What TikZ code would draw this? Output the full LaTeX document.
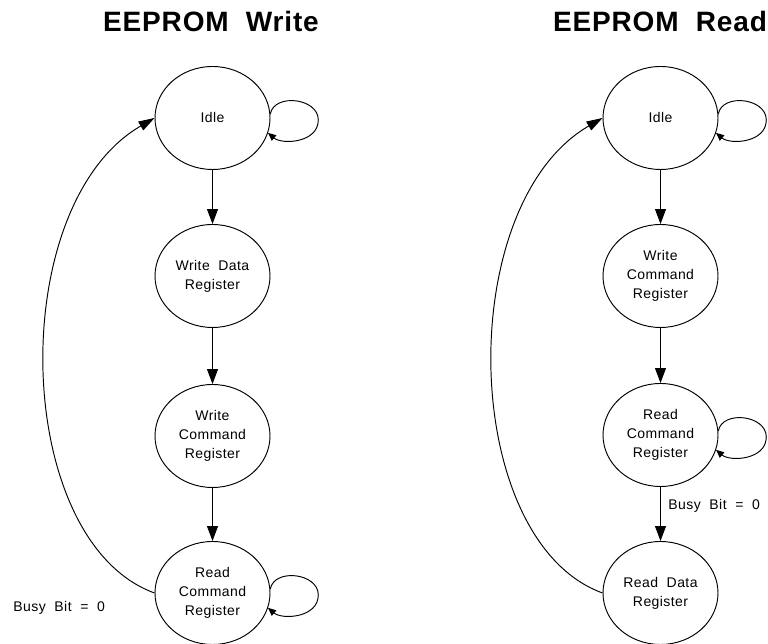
\documentclass[tikz,border=0pt]{standalone}
\usepackage{fontspec}
\usepackage{tikz}
\usetikzlibrary{shapes.geometric}
\usetikzlibrary{arrows.meta}
\newfontfamily\statefont{Liberation Sans}[LetterSpace=3,WordSpace=2]
\newfontfamily\titlefont{Liberation Sans}[LetterSpace=3,WordSpace=2]

\begin{document}
\begin{tikzpicture}[x=1pt,y=1pt,line width=0.95pt,
    state node/.style={ellipse,draw,inner sep=0pt,minimum width=115pt,minimum height=103pt,align=center,font=\statefont\fontsize{14}{19}\selectfont},
    title node/.style={inner sep=0pt,font=\titlefont\bfseries\fontsize{28}{32}\selectfont},
    label node/.style={inner sep=0pt,anchor=west,font=\statefont\fontsize{14}{19}\selectfont},
    step arrow/.style={-{Triangle[length=15pt,width=11pt]}},
    loop arrow/.style={-{Triangle[length=8pt,width=7pt]}},
    back arrow/.style={-{Triangle[length=16pt,width=10pt]}},
    self loop/.style={to path={.. controls +(4,21) and +(0,22) .. ++(48,-6) .. controls +(0,-23) and +(14,-12) .. (\tikztotarget)}}]
   \useasboundingbox (0,0) rectangle (768,644);
   \begin{scope}
     % write side
     \node[title node] (wtitle) at (211,622) {EEPROM Write};
     \node[state node] (widle) at (212.5,526) {Idle};
     \node[state node] (wdata) at (212.5,368) {Write Data\\Register};
     \node[state node] (wcmd) at (212.5,208) {Write\\Command\\Register};
     \node[state node] (wrcmd) at (212.5,51) {Read\\Command\\Register};
     \node[label node] (wbusy) at (13,36) {Busy Bit = 0};
      \draw[step arrow] (widle) -- (wdata);
      \draw[step arrow] (wdata) -- (wcmd);
      \draw[step arrow] (wcmd) -- (wrcmd);
      \draw[loop arrow] (widle.4) to[self loop] (widle.-15);
      \draw[loop arrow] (wrcmd.4) to[self loop] (wrcmd.-15);
      \draw[back arrow] (wrcmd.west) .. controls +(-143,52) and +(-150,-87) .. (widle.west);
     % read side
     \node[title node] (rtitle) at (660,622) {EEPROM Read};
     \node[state node] (ridle) at (660.5,526) {Idle};
     \node[state node] (rwcmd) at (660.5,368) {Write\\Command\\Register};
     \node[state node] (rrcmd) at (660.5,209) {Read\\Command\\Register};
     \node[state node] (rdata) at (660.5,51) {Read Data\\Register};
     \node[label node] (rbusy) at (668,138) {Busy Bit = 0};
      \draw[step arrow] (ridle) -- (rwcmd);
      \draw[step arrow] (rwcmd) -- (rrcmd);
      \draw[step arrow] (rrcmd) -- (rdata);
      \draw[loop arrow] (ridle.4) to[self loop] (ridle.-15);
      \draw[loop arrow] (rrcmd.4) to[self loop] (rrcmd.-15);
      \draw[back arrow] (rdata.west) .. controls +(-143,52) and +(-150,-87) .. (ridle.west);
   \end{scope}
\end{tikzpicture}
\end{document}
